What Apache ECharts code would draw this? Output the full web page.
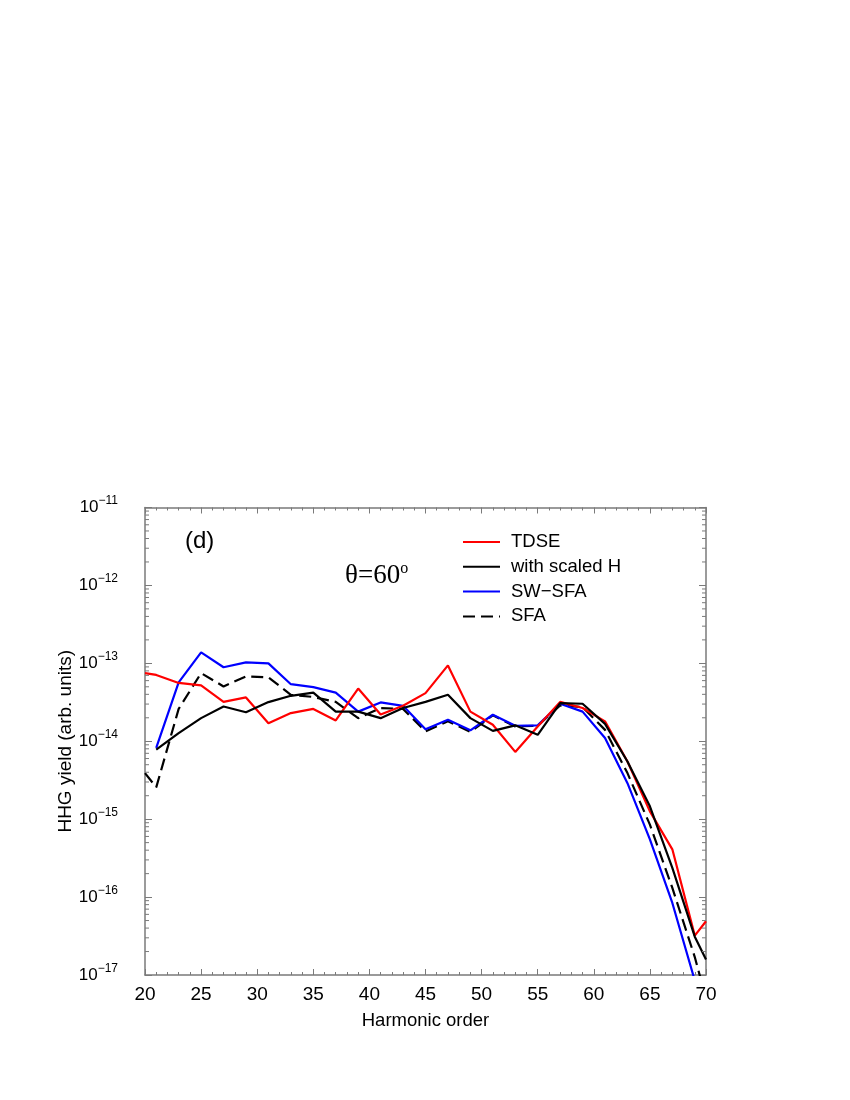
<!DOCTYPE html>
<html>
<head>
<meta charset="utf-8">
<script src="https://cdn.jsdelivr.net/npm/echarts@6/dist/echarts.min.js"></script>
<style>
html,body{margin:0;padding:0;background:#fff;}
#chart{width:850px;height:1100px;}
</style>
</head>
<body>
<div id="chart"></div>
<script>
// ---- Data ----
const harmonics = [20,21,23,25,27,29,31,33,35,37,39,41,43,45,47,49,51,53,55,57,59,61,63,65,67,69,70];
const tdse = [7.5e-14,7.1e-14,5.6e-14,5.2e-14,3.2e-14,3.65e-14,1.7e-14,2.3e-14,2.6e-14,1.85e-14,4.75e-14,2.2e-14,2.85e-14,4.15e-14,9.4e-14,2.4e-14,1.63e-14,7.3e-15,1.55e-14,3.2e-14,2.67e-14,1.8e-14,5.5e-15,1.26e-15,4.1e-16,3.2e-17,4.9e-17];
const scaledH = [null,7.8e-15,1.27e-14,1.98e-14,2.79e-14,2.36e-14,3.18e-14,3.83e-14,4.2e-14,2.4e-14,2.4e-14,1.98e-14,2.67e-14,3.2e-14,3.95e-14,1.98e-14,1.36e-14,1.6e-14,1.21e-14,3.09e-14,3.03e-14,1.67e-14,5.5e-15,1.46e-15,2.37e-16,3.1e-17,1.58e-17];
const swsfa = [null,8.2e-15,5.7e-14,1.38e-13,8.9e-14,1.03e-13,1.0e-13,5.4e-14,4.95e-14,4.2e-14,2.4e-14,3.15e-14,2.85e-14,1.43e-14,1.89e-14,1.38e-14,2.19e-14,1.58e-14,1.6e-14,3.03e-14,2.4e-14,1.1e-14,2.9e-15,5.5e-16,8.4e-17,8.5e-18,null];
const sfa = [3.9e-15,2.56e-15,2.6e-14,7.5e-14,5.05e-14,6.8e-14,6.6e-14,3.95e-14,3.7e-14,3.2e-14,1.98e-14,2.67e-14,2.6e-14,1.34e-14,1.8e-14,1.32e-14,2.15e-14,1.55e-14,1.58e-14,2.88e-14,2.75e-14,1.4e-14,3.9e-15,8.5e-16,1.31e-16,1.7e-17,5e-18];
const seriesNames = ['TDSE','with scaled H','SW\u2212SFA','SFA'];
const xTickLabels = ['20','25','30','35','40','45','50','55','60','65','70'];
const yDecades = [-17,-16,-15,-14,-13,-12,-11];
const minorMults = [2,3,4,5,6,7,8,9];

const X_MIN = 20, X_MAX = 70, Y_MIN = 1e-17, Y_MAX = 1e-11;
const AXIS_COLOR = '#7a7a7a';
const FONT = 'Liberation Sans, Arial, Helvetica, sans-serif';
const SERIF = 'Liberation Serif, Times New Roman, serif';

function pairs(ys){ return harmonics.map((h,i)=>[h, ys[i]]); }

const minorTickData = [];
yDecades.slice(0,-1).forEach(d=>{ minorMults.forEach(m=>{ minorTickData.push([X_MIN, m*Math.pow(10,d)]); }); });

const chart = echarts.init(document.getElementById('chart'), null, {renderer:'canvas'});

const lineBase = {type:'line', symbol:'none', showSymbol:false, clip:true, connectNulls:false, xAxisIndex:0, yAxisIndex:0};

const option = {
  backgroundColor:'#fff',
  animation:false,
  grid:{left:145, right:144, top:507.5, bottom:125, containLabel:false},
  legend:{
    show:true, orient:'vertical', left:457, top:527, itemWidth:37, itemHeight:14, itemGap:4.8,
    data:seriesNames,
    itemStyle:{opacity:0},
    textStyle:{fontFamily:FONT, fontSize:18.5, color:'#000', lineHeight:20, padding:[0,0,0,6]},
    inactiveColor:'#ccc'
  },
  xAxis:[
    {type:'value', position:'bottom', min:X_MIN, max:X_MAX, interval:5,
     axisLine:{show:true, onZero:false, lineStyle:{color:AXIS_COLOR, width:1.5}},
     axisTick:{show:true, inside:true, length:6, lineStyle:{color:AXIS_COLOR, width:1}},
     minorTick:{show:true, splitNumber:5, length:3, lineStyle:{color:AXIS_COLOR, width:1}},
     splitLine:{show:false},
     axisLabel:{show:true, margin:10, fontFamily:FONT, fontSize:19, color:'#000',
       formatter:(v)=>{ const s=String(v); return xTickLabels.indexOf(s)>=0 ? s : ''; }},
     name:'Harmonic order', nameLocation:'middle', nameGap:36, nameMoveOverlap:false,
     nameTextStyle:{fontFamily:FONT, fontSize:18.5, color:'#000'}
    },
    {type:'value', position:'top', min:X_MIN, max:X_MAX, interval:5,
     axisLine:{show:true, onZero:false, lineStyle:{color:AXIS_COLOR, width:1.5}},
     axisTick:{show:true, inside:true, length:6, lineStyle:{color:AXIS_COLOR, width:1}},
     minorTick:{show:true, splitNumber:5, length:3, lineStyle:{color:AXIS_COLOR, width:1}},
     splitLine:{show:false}, axisLabel:{show:false}
    }
  ],
  yAxis:[
    {type:'log', logBase:10, position:'left', min:Y_MIN, max:Y_MAX, splitNumber:6,
     axisLine:{show:true, onZero:false, lineStyle:{color:AXIS_COLOR, width:1.5}},
     axisTick:{show:true, inside:true, length:7, lineStyle:{color:AXIS_COLOR, width:1}},
     splitLine:{show:false},
     axisLabel:{show:true, margin:27,
       formatter:(v)=>{ const e=Math.round(Math.log10(v)); return '{b|10}{e|\u2212'+Math.abs(e)+'}'; },
       rich:{
         b:{fontFamily:FONT, fontSize:17, color:'#000', lineHeight:25, verticalAlign:'middle'},
         e:{fontFamily:FONT, fontSize:12, color:'#000', lineHeight:12, verticalAlign:'top'}
       }},
     name:'HHG yield (arb. units)', nameLocation:'middle', nameGap:70, nameMoveOverlap:false,
     nameTextStyle:{fontFamily:FONT, fontSize:19, color:'#000'}
    },
    {type:'log', logBase:10, position:'right', min:Y_MIN, max:Y_MAX, splitNumber:6,
     axisLine:{show:true, onZero:false, lineStyle:{color:AXIS_COLOR, width:1.5}},
     axisTick:{show:true, inside:true, length:7, lineStyle:{color:AXIS_COLOR, width:1}},
     splitLine:{show:false}, axisLabel:{show:false}
    }
  ],
  series:[
    Object.assign({}, lineBase, {name:seriesNames[0], data:pairs(tdse), lineStyle:{color:'#ff0000', width:2.2}, itemStyle:{color:'#ff0000'}, z:5}),
    Object.assign({}, lineBase, {name:seriesNames[1], data:pairs(scaledH), lineStyle:{color:'#000000', width:2.2}, itemStyle:{color:'#000000'}, z:6}),
    Object.assign({}, lineBase, {name:seriesNames[2], data:pairs(swsfa), lineStyle:{color:'#0000ff', width:2.2}, itemStyle:{color:'#0000ff'}, z:4}),
    Object.assign({}, lineBase, {name:seriesNames[3], data:pairs(sfa), lineStyle:{color:'#000000', width:2.2, type:[12,6]}, itemStyle:{color:'#000000'}, z:3}),
    {type:'custom', name:'minorTicks', coordinateSystem:'cartesian2d', xAxisIndex:0, yAxisIndex:0,
     silent:true, clip:false, data:minorTickData, z:10,
     renderItem:function(params, api){
       const v = api.value(1);
       const pL = api.coord([X_MIN, v]);
       const pR = api.coord([X_MAX, v]);
       return {type:'group', children:[
         {type:'line', shape:{x1:pL[0], y1:pL[1], x2:pL[0]+4, y2:pL[1]}, style:{stroke:AXIS_COLOR, lineWidth:1}},
         {type:'line', shape:{x1:pR[0]-4, y1:pR[1], x2:pR[0], y2:pR[1]}, style:{stroke:AXIS_COLOR, lineWidth:1}}
       ]};
     }}
  ],
  graphic:[
    {type:'text', left:185, top:529, style:{text:'(d)', fontFamily:FONT, fontSize:24, fill:'#000'}},
    {type:'text', left:345, top:561, style:{
      text:'{m|\u03b8=60}{s|o}',
      rich:{
        m:{fontFamily:SERIF, fontSize:27, fill:'#000', lineHeight:28, verticalAlign:'bottom'},
        s:{fontFamily:SERIF, fontSize:16, fill:'#000', lineHeight:16, verticalAlign:'top'}
      }}}
  ]
};
chart.setOption(option);
</script>
</body>
</html>
